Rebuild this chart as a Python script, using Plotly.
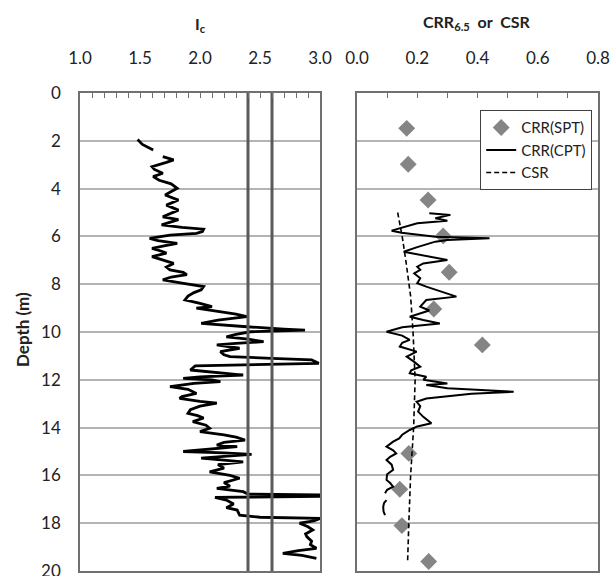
import plotly.graph_objects as go

# ---------------- data ----------------
ic_depth = [1.95, 2.15, 2.38, None,
            2.66, 2.80, 2.90, 3.08, 3.20, 3.36, 3.50, 3.65, 3.80, 3.99, 4.15, 4.27, 4.48, 4.69, 4.90,
            5.05, 5.18, 5.30, 5.52, 5.62, 5.70, 5.80, 5.87, 5.95, 6.08, 6.18, 6.29, 6.40, 6.50, 6.62,
            6.70, 6.85, 7.00, 7.13, 7.28, 7.40, 7.50, 7.60, 7.70, 7.82, 7.95, 8.10, 8.24, 8.35, 8.50,
            8.66, 8.80, 8.94, 9.00, 9.10, 9.25, 9.36, 9.50, 9.64, 9.72, 9.78, 9.88, 9.92, 9.96, 9.99,
            10.10, 10.20, 10.30, 10.40, 10.48, 10.54, 10.68, 10.82, 10.95, 11.03, 11.10, 11.17, 11.31,
            11.36, 11.42, 11.59, 11.70, 11.80, 11.88, 11.94, 12.00, 12.08, 12.15, 12.29, 12.40, 12.57,
            12.70, 12.78, 12.90, 12.98, 13.10, 13.25, 13.40, 13.50, 13.60, 13.75, 13.90, 14.03, 14.17,
            14.30, 14.40, 14.52, 14.62, 14.73, 14.80, 14.90, 15.00, 15.06, 15.12, 15.20, 15.28, 15.43,
            15.55, 15.70, 15.85, 16.00, 16.12, 16.30, 16.45, 16.54, 16.68, 16.78, 16.82, 16.88, 16.92,
            17.03, 17.20, 17.35, 17.45, 17.66, 17.75, 17.80, 17.90, 18.00, 18.15, 18.28, 18.45, 18.56,
            18.75, 18.90, 19.05, 19.15, 19.26, 19.35, 19.47]
ic_value = [1.48, 1.52, 1.61, None,
            1.69, 1.78, 1.72, 1.60, 1.62, 1.69, 1.61, 1.66, 1.76, 1.81, 1.75, 1.71, 1.82, 1.72, 1.82,
            1.75, 1.69, 1.82, 1.68, 1.85, 2.03, 2.02, 1.97, 1.75, 1.58, 1.65, 1.81, 1.70, 1.60, 1.68,
            1.72, 1.60, 1.70, 1.78, 1.72, 1.75, 1.86, 1.89, 1.76, 1.69, 1.85, 2.03, 2.01, 1.95, 1.90,
            1.875, 2.00, 2.10, 1.97, 2.10, 2.30, 2.39, 2.15, 2.01, 2.20, 2.39, 2.70, 2.875, 2.60, 2.42,
            2.30, 2.22, 2.40, 2.53, 2.30, 2.14, 2.33, 2.17, 2.20, 2.25, 2.60, 2.93, 2.99,
            2.40, 1.96, 1.92, 2.15, 2.36, 2.00, 1.86, 2.10, 2.17, 1.95, 1.75, 1.90, 1.97,
            1.85, 1.83, 2.00, 2.14, 2.00, 1.92, 1.90, 1.98, 2.03, 1.94, 2.05, 2.08, 2.00,
            2.20, 2.30, 2.375, 2.20, 2.14, 2.31, 2.10, 1.86, 2.20, 2.43, 2.20, 2.01, 2.36,
            2.15, 2.20, 2.08, 2.25, 2.33, 2.20, 2.25, 2.14, 2.36, 2.40, 3.00, 3.00, 2.125,
            2.22, 2.28, 2.22, 2.31, 2.33, 2.50, 3.00, 2.95, 2.83, 2.90, 2.94, 2.88, 2.89,
            2.93, 2.92, 2.97, 2.82, 2.69, 2.85, 2.97]

ic_bounds = [2.4, 2.6]

cpt_depth = [5.03, 5.10, 5.24, 5.34, 5.45, 5.59, 5.76, 5.85, 5.95, 6.01, 6.08, 6.15, 6.22, 6.29, 6.45,
             6.64, 6.75, 6.85, 6.99, 7.13, 7.27, 7.40, 7.55, 7.75, 7.96, 8.10, 8.30, 8.52, 8.66, 8.80,
             8.94, 9.10, 9.36, 9.50, 9.64, 9.80, 9.99, 10.15, 10.33, 10.45, 10.61, 10.82, 11.03, 11.25,
             11.45, 11.60, 11.73, 11.87, 12.00, 12.15, 12.22, 12.35, 12.50, 12.58, 12.64, 12.78, 12.92,
             13.10, 13.33, 13.55, 13.82, 13.95, 14.10, 14.30, 14.45, 14.59, 14.80, 14.95, 15.08, 15.22,
             15.36, 15.55, 15.77, 15.95, 16.19, 16.32, 16.47, 16.60, 16.75, None,
             17.03, 17.15, 17.31, 17.50, 17.66]
cpt_crr = [0.24, 0.31, 0.26, 0.30, 0.20, 0.165, 0.115, 0.148, 0.22, 0.26, 0.44, 0.30, 0.26, 0.24, 0.20,
           0.155, 0.20, 0.23, 0.30, 0.22, 0.20, 0.21, 0.19, 0.21, 0.20, 0.23, 0.28, 0.33, 0.23, 0.22,
           0.21, 0.24, 0.175, 0.22, 0.275, 0.15, 0.098, 0.15, 0.175, 0.15, 0.142, 0.198, 0.165, 0.19,
           0.21, 0.18, 0.175, 0.23, 0.22, 0.30, 0.23, 0.30, 0.52, 0.38, 0.34, 0.23, 0.198,
           0.21, 0.203, 0.22, 0.247, 0.20, 0.175, 0.15, 0.14, 0.12, 0.098, 0.12, 0.13, 0.11,
           0.098, 0.115, 0.12, 0.10, 0.098, 0.11, 0.12, 0.10, 0.093, None,
           0.098, 0.09, 0.087, 0.088, 0.093]

csr_depth = [5.0, 6.0, 7.0, 8.5, 10.0, 12.0, 14.0, 16.0, 18.0, 19.6]
csr_value = [0.135, 0.150, 0.162, 0.178, 0.186, 0.193, 0.188, 0.178, 0.172, 0.168]

spt_depth = [1.48, 2.98, 4.48, 5.98, 7.50, 9.04, 10.54, 15.08, 16.58, 18.10, 19.60]
spt_crr = [0.165, 0.170, 0.236, 0.286, 0.306, 0.255, 0.416, 0.172, 0.142, 0.149, 0.238]

ic_ticks = [1.0, 1.5, 2.0, 2.5, 3.0]
crr_ticks = [0.0, 0.2, 0.4, 0.6, 0.8]
depth_ticks = list(range(0, 21, 2))

# ---------------- figure ----------------
FONT = "Lato"
TXT = "#222222"
BORDER = "#707070"
GRID = "#b4b4b4"

fig = go.Figure()

fig.add_trace(go.Scatter(x=ic_value, y=ic_depth, mode="lines", xaxis="x", yaxis="y",
                         line=dict(color="black", width=2.8), showlegend=False,
                         connectgaps=False))
for b in ic_bounds:
    fig.add_trace(go.Scatter(x=[b, b], y=[0, 20], mode="lines", xaxis="x", yaxis="y",
                             line=dict(color="#5a5a5a", width=3), showlegend=False))

fig.add_trace(go.Scatter(x=spt_crr, y=spt_depth, mode="markers", xaxis="x2", yaxis="y2",
                         name="CRR(SPT)",
                         marker=dict(symbol="diamond", size=13, color="#858585")))
fig.add_trace(go.Scatter(x=cpt_crr, y=cpt_depth, mode="lines", xaxis="x2", yaxis="y2",
                         name="CRR(CPT)", line=dict(color="black", width=2), connectgaps=False))
fig.add_trace(go.Scatter(x=csr_value, y=csr_depth, mode="lines", xaxis="x2", yaxis="y2",
                         name="CSR", line=dict(color="black", width=1.6, dash="5px,3px")))

W, H = 616, 576
L, R, T, B = 80, 18, 93, 5
pw = W - L - R
ph = H - T - B

def px_x(p):
    return (p - L) / pw

def px_y(p):
    return 1 - (p - T) / ph

common_x = dict(side="top", ticks="inside", ticklen=5, tickcolor=BORDER, tickwidth=1.2,
                showline=True, linecolor=BORDER, linewidth=1.6, mirror=True,
                showgrid=False, zeroline=False, tickformat=".1f",
                tickfont=dict(family=FONT, size=17, color=TXT),
                ticklabelstandoff=20, ticklabeloverflow="allow", automargin=False)

fig.update_layout(
    width=W, height=H,
    margin=dict(l=L, r=R, t=T, b=B),
    paper_bgcolor="white", plot_bgcolor="white",
    font=dict(family=FONT, color=TXT),
    xaxis=dict(domain=[0, px_x(320)], range=[1, 3], tickvals=ic_ticks,
               minor=dict(dtick=0.1, ticks="inside", ticklen=5, tickcolor=BORDER, showgrid=False),
               anchor="y", **common_x),
    xaxis2=dict(domain=[px_x(357), 1], range=[0, 0.8], tickvals=crr_ticks,
                minor=dict(dtick=0.1, ticks="inside", ticklen=5, tickcolor=BORDER, showgrid=False),
                anchor="y2", **common_x),
    yaxis=dict(domain=[0, 1], range=[20, 0], tickvals=depth_ticks, anchor="x",
               showgrid=True, gridcolor=GRID, gridwidth=1.5, zeroline=False,
               showline=True, linecolor=BORDER, linewidth=1.6, mirror=True, ticks="",
               tickfont=dict(family=FONT, size=17, color=TXT), ticklabelstandoff=14,
               ticklabeloverflow="allow", automargin=False),
    yaxis2=dict(domain=[0, 1], range=[20, 0], tickvals=depth_ticks, anchor="x2",
                matches="y", showticklabels=False, automargin=False,
                showgrid=True, gridcolor=GRID, gridwidth=1.5, zeroline=False,
                showline=True, linecolor=BORDER, linewidth=1.6, mirror=True, ticks=""),
    legend=dict(x=px_x(592), xanchor="right", y=px_y(110), yanchor="top",
                bgcolor="white", bordercolor="#404040", borderwidth=1.2,
                font=dict(family=FONT, size=15, color=TXT), tracegroupgap=0,
                itemwidth=30),
    annotations=[
        dict(text="<b>I<sub>c</sub></b>", x=px_x(200), y=px_y(25), xref="paper", yref="paper",
             xanchor="center", yanchor="middle",
             showarrow=False, font=dict(family=FONT, size=16, color=TXT)),
        dict(text="<b>CRR<sub>6.5</sub>  or  CSR</b>", x=px_x(477), y=px_y(22), xref="paper",
             yref="paper", xanchor="center", yanchor="middle",
             showarrow=False, font=dict(family=FONT, size=16, color=TXT)),
        dict(text="<b>Depth (m)</b>", x=px_x(22), y=px_y(330), xref="paper", yref="paper",
             xanchor="center", yanchor="middle",
             textangle=-90, showarrow=False, font=dict(family=FONT, size=17, color=TXT)),
    ],
)

fig.write_html("out.html")
